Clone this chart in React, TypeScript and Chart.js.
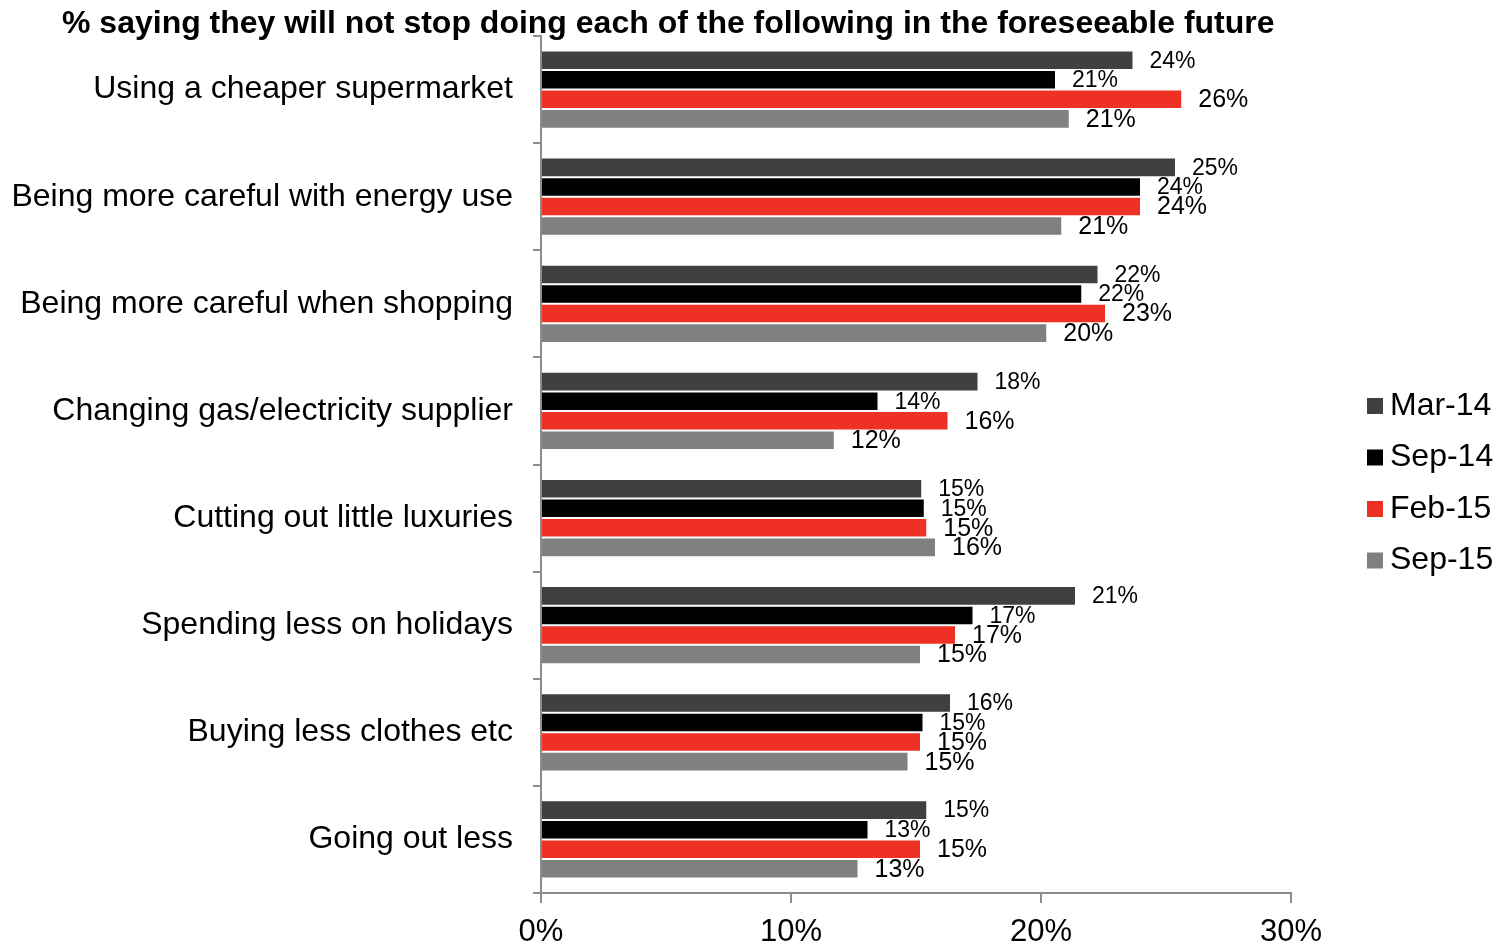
import React, { useEffect, useRef } from 'react';
import { Chart, registerables } from 'chart.js';

Chart.register(...registerables);

const FONT = '"Liberation Sans", Arial, sans-serif';

const titleText = '% saying they will not stop doing each of the following in the foreseeable future';

const categories = [
  'Using a cheaper supermarket',
  'Being more careful with energy use',
  'Being more careful when shopping',
  'Changing gas/electricity supplier',
  'Cutting out little luxuries',
  'Spending less on holidays',
  'Buying less clothes etc',
  'Going out less',
];

const seriesNames = ['Mar-14', 'Sep-14', 'Feb-15', 'Sep-15'];
const seriesColors = ['#404040', '#000000', '#EE3124', '#808080'];

const mar14 = [23.7, 25.4, 22.3, 17.5, 15.25, 21.4, 16.4, 15.45];
const sep14 = [20.6, 24.0, 21.65, 13.5, 15.35, 17.3, 15.3, 13.1];
const feb15 = [25.65, 24.0, 22.6, 16.3, 15.45, 16.6, 15.2, 15.2];
const sep15 = [21.15, 20.85, 20.25, 11.75, 15.8, 15.2, 14.7, 12.7];

const xTicks = [0, 10, 20, 30];
const labelFontSizes = [23, 23, 25, 25];

const barLabelsPlugin = {
  id: 'barLabels',
  afterDatasetsDraw(chart: any) {
    const ctx = chart.ctx;
    ctx.save();
    ctx.fillStyle = '#000';
    ctx.textAlign = 'left';
    ctx.textBaseline = 'middle';
    chart.data.datasets.forEach((ds: any, di: number) => {
      const meta = chart.getDatasetMeta(di);
      ctx.font = `${labelFontSizes[di]}px ${FONT}`;
      meta.data.forEach((el: any, i: number) => {
        const v = ds.data[i];
        ctx.fillText(Math.round(v) + '%', el.x + 16, el.y + 1);
      });
    });
    ctx.restore();
  },
};

const legendPlugin = {
  id: 'customLegend',
  afterDraw(chart: any) {
    const ctx = chart.ctx;
    ctx.save();
    ctx.font = `32px ${FONT}`;
    ctx.textAlign = 'left';
    ctx.textBaseline = 'middle';
    chart.data.datasets.forEach((ds: any, i: number) => {
      const cy = 406 + i * 51.5;
      ctx.fillStyle = ds.backgroundColor;
      ctx.fillRect(1367, cy - 8, 16, 16);
      ctx.fillStyle = '#000';
      ctx.fillText(ds.label, 1390, cy);
    });
    ctx.restore();
  },
};

const titlePlugin = {
  id: 'customTitle',
  afterDraw(chart: any) {
    const ctx = chart.ctx;
    ctx.save();
    ctx.font = `bold 32px ${FONT}`;
    ctx.fillStyle = '#000';
    ctx.textAlign = 'left';
    ctx.textBaseline = 'alphabetic';
    ctx.fillText(titleText, 62, 33);
    ctx.restore();
  },
};

export default function App() {
  const ref = useRef<HTMLCanvasElement>(null);

  useEffect(() => {
    const seriesData = [mar14, sep14, feb15, sep15];
    const chart = new Chart(ref.current as HTMLCanvasElement, {
      type: 'bar',
      data: {
        labels: categories,
        datasets: seriesData.map((d, i) => ({
          label: seriesNames[i],
          data: d,
          backgroundColor: seriesColors[i],
          borderColor: 'rgba(255,255,255,0.45)',
          borderWidth: 1,
          categoryPercentage: 0.73,
          barPercentage: 1,
        })),
      },
      options: {
        indexAxis: 'y',
        animation: false,
        responsive: true,
        maintainAspectRatio: false,
        layout: { padding: { top: 36, right: 217, bottom: 0, left: 0 } },
        plugins: {
          legend: { display: false },
          title: { display: false },
          tooltip: { enabled: false },
        },
        scales: {
          y: {
            grid: {
              drawOnChartArea: false,
              drawTicks: true,
              tickLength: 8,
              color: '#8c8c8c',
              lineWidth: 2,
              offset: true,
            },
            border: { color: '#8c8c8c', width: 2 },
            ticks: { color: '#000', font: { size: 32, family: FONT }, padding: 20 },
            afterFit: (s: any) => {
              s.width = 541;
              s.paddingTop = 0;
              s.paddingBottom = 0;
            },
          },
          x: {
            min: 0,
            max: 30,
            afterBuildTicks: (s: any) => {
              s.ticks = xTicks.map((v) => ({ value: v }));
            },
            ticks: {
              color: '#000',
              font: { size: 31, family: FONT },
              padding: 11,
              maxRotation: 0,
              callback: (v: any) => v + '%',
            },
            grid: {
              drawOnChartArea: false,
              drawTicks: true,
              tickLength: 10,
              color: '#8c8c8c',
              lineWidth: 2,
            },
            border: { color: '#8c8c8c', width: 2 },
            afterFit: (s: any) => {
              s.height = 55;
            },
          },
        },
      },
      plugins: [barLabelsPlugin, legendPlugin, titlePlugin],
    } as any);
    return () => chart.destroy();
  }, []);

  return (
    <div style={{ position: 'absolute', left: 0, top: 0, width: 1508, height: 948, background: '#fff' }}>
      <canvas ref={ref} />
    </div>
  );
}
